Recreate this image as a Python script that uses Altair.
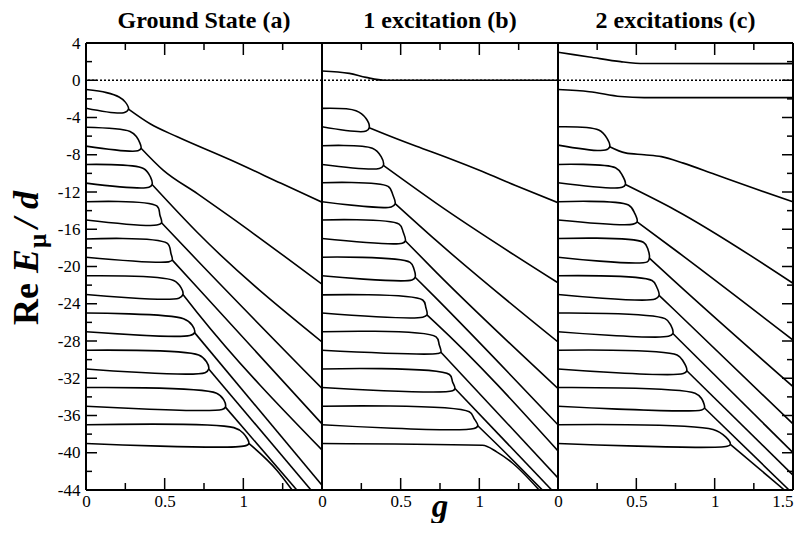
import altair as alt
import pandas as pd

FONT = "Liberation Serif"
X_DOMAIN = [0, 1.5]
Y_DOMAIN = [-44, 4]
PANEL_W = [236, 236, 235]
PANEL_H = 447

TITLES = ["Ground State (a)", "1 excitation (b)", "2 excitations (c)"]
X_TITLE = "g"
Y_LABELS = [4, 0, -4, -8, -12, -16, -20, -24, -28, -32, -36, -40, -44]
Y_MAJOR = [0, -4, -8, -12, -16, -20, -24, -28, -32, -36, -40]
Y_MINOR = [2, -2, -6, -10, -14, -18, -22, -26, -30, -34, -38, -42]
X_MAJOR = [0.5, 1.0]
X_MINOR = [0.25, 0.75, 1.25]
X_LABELS_AB = [0, 0.5, 1]
X_LABELS_C = [0, 0.5, 1, 1.5]
ZERO = [0]

# ---- Panel (a): ground state ----
A_BULLETS = [
    [(0, -1.0), (0.13, -1.33), (0.21, -1.8), (0.25, -2.35), (0.27, -3.1), (0.24, -3.48), (0, -3.0)],
    [(0, -5.05), (0.28, -5.5), (0.32, -6.05), (0.35, -7.3), (0.33, -7.57), (0, -7.07)],
    [(0, -9.05), (0.365, -9.47), (0.41, -10.4), (0.42, -11.2), (0.40, -11.5), (0, -11.05)],
    [(0, -13.05), (0.45, -13.5), (0.47, -14.5), (0.48, -15.3), (0.45, -15.55), (0, -15.0)],
    [(0, -17.05), (0.515, -17.5), (0.54, -18.6), (0.548, -19.3), (0.525, -19.5), (0, -19.0)],
    [(0, -21.0), (0.557, -21.5), (0.605, -22.3), (0.616, -23.0), (0.59, -23.4), (0, -23.0)],
    [(0, -25.0), (0.62, -25.6), (0.675, -26.3), (0.69, -27.1), (0.66, -27.4), (0, -27.0)],
    [(0, -29.0), (0.716, -29.5), (0.765, -30.2), (0.78, -31.0), (0.757, -31.4), (0, -31.0)],
    [(0, -33.0), (0.83, -33.6), (0.875, -34.3), (0.886, -35.1), (0.865, -35.35), (0, -35.0)],
    [(0, -37.0), (0.94, -37.3), (1.0, -37.9), (1.035, -39.0), (1.01, -39.26), (0, -39.0)],
]
A_LINES = [
    [(0.27, -3.1), (0.41, -4.7), (0.58, -6.07), (0.92, -8.57), (1.24, -11.07), (1.5, -13.1)],
    [(0.35, -7.3), (0.49, -9.65), (0.71, -12.2), (0.92, -14.7), (1.5, -21.9)],
    [(0.42, -11.2), (0.705, -16.3), (1.5, -28.1)],
    [(0.48, -15.3), (0.705, -19.3), (1.5, -33.1)],
    [(0.548, -19.3), (0.705, -22.2), (1.5, -36.9)],
    [(0.616, -23.0), (0.705, -24.9), (1.5, -39.7)],
    [(0.69, -27.1), (1.5, -43.5)],
    [(0.78, -31.0), (1.43, -44.0)],
    [(0.886, -35.1), (1.34, -44.0)],
    [(1.035, -39.0), (1.214, -41.9), (1.31, -44.0)],
]

# ---- Panel (b): 1 excitation ----
B_SINGLES = [
    [(0, 1.0), (0.174, 0.74), (0.28, 0.31), (0.4, 0.0), (1.5, 0.0)],
    [(0, -39.0), (1.02, -39.2), (1.11, -39.9), (1.21, -41.1), (1.38, -44.0)],
]
B_BULLETS = [
    [(0, -3.02), (0.216, -3.27), (0.28, -4.1), (0.30, -5.1), (0.28, -5.46), (0, -5.0)],
    [(0, -7.03), (0.32, -7.3), (0.376, -8.2), (0.39, -9.15), (0.364, -9.47), (0, -9.04)],
    [(0, -11.0), (0.42, -11.4), (0.45, -12.3), (0.465, -13.25), (0.44, -13.6), (0, -13.05)],
    [(0, -15.0), (0.49, -15.45), (0.516, -16.3), (0.53, -17.25), (0.51, -17.5), (0, -17.0)],
    [(0, -19.0), (0.56, -19.55), (0.585, -20.3), (0.592, -21.15), (0.572, -21.45), (0, -21.0)],
    [(0, -23.05), (0.64, -23.6), (0.66, -24.4), (0.667, -25.2), (0.64, -25.45), (0, -25.0)],
    [(0, -27.0), (0.725, -27.55), (0.745, -28.4), (0.756, -29.2), (0.735, -29.35), (0, -29.0)],
    [(0, -31.0), (0.81, -31.6), (0.83, -32.4), (0.845, -33.1), (0.83, -33.35), (0, -33.0)],
    [(0, -35.0), (0.936, -35.6), (0.966, -36.3), (0.99, -37.1), (0.966, -37.4), (0, -37.0)],
]
B_LINES = [
    [(0.30, -5.1), (0.386, -5.7), (0.6, -7.1), (0.81, -8.4), (1.02, -9.8), (1.23, -11.3), (1.5, -13.15)],
    [(0.39, -9.15), (0.725, -13.2), (1.5, -21.75)],
    [(0.465, -13.25), (0.725, -17.2), (1.5, -28.1)],
    [(0.53, -17.25), (0.725, -20.6), (1.5, -33.1)],
    [(0.592, -21.15), (0.725, -23.4), (1.5, -37.0)],
    [(0.667, -25.2), (0.725, -26.1), (1.5, -39.8)],
    [(0.756, -29.2), (1.5, -42.7)],
    [(0.845, -33.1), (1.46, -44.0)],
    [(0.99, -37.1), (1.1, -38.9), (1.40, -44.0)],
]

# ---- Panel (c): 2 excitations ----
C_SINGLES = [
    [(0, 3.0), (0.2, 2.5), (0.4, 2.0), (0.55, 1.8), (1.5, 1.78)],
    [(0, -1.0), (0.2, -1.23), (0.4, -1.75), (0.55, -1.87), (1.5, -1.87)],
]
C_BULLETS = [
    [(0, -5.0), (0.26, -5.35), (0.313, -6.24), (0.33, -7.14), (0.303, -7.5), (0, -6.96)],
    [(0, -9.04), (0.367, -9.4), (0.41, -10.2), (0.43, -11.2), (0.41, -11.5), (0, -11.0)],
    [(0, -13.05), (0.45, -13.4), (0.49, -14.3), (0.505, -15.2), (0.48, -15.45), (0, -15.0)],
    [(0, -17.0), (0.545, -17.4), (0.575, -18.2), (0.583, -19.1), (0.57, -19.5), (0, -19.0)],
    [(0, -21.0), (0.6, -21.5), (0.63, -22.2), (0.645, -23.1), (0.62, -23.5), (0, -23.0)],
    [(0, -25.0), (0.683, -25.6), (0.72, -26.3), (0.733, -27.2), (0.705, -27.5), (0, -27.0)],
    [(0, -29.0), (0.76, -29.5), (0.8, -30.2), (0.822, -31.2), (0.8, -31.5), (0, -31.0)],
    [(0, -33.0), (0.875, -33.6), (0.917, -34.2), (0.935, -35.2), (0.917, -35.4), (0, -35.0)],
    [(0, -37.0), (0.99, -37.5), (1.07, -38.3), (1.1, -39.1), (1.08, -39.3), (0, -39.0)],
]
C_LINES = [
    [(0.33, -7.14), (0.43, -7.8), (0.55, -8.0), (0.66, -8.2), (0.8, -8.9), (1.0, -10.1), (1.25, -11.6), (1.5, -13.05)],
    [(0.43, -11.2), (0.745, -13.9), (1.5, -21.8)],
    [(0.505, -15.2), (0.745, -18.2), (1.5, -27.9)],
    [(0.583, -19.1), (0.745, -21.6), (1.5, -32.9)],
    [(0.645, -23.1), (0.745, -24.7), (1.5, -36.9)],
    [(0.733, -27.2), (1.5, -40.0)],
    [(0.822, -31.2), (1.5, -42.4)],
    [(0.935, -35.2), (1.475, -44.0)],
    [(1.1, -39.1), (1.445, -44.0)],
]

# y-axis title pieces: (text, centre y in plot px, baseline x in plot px, style, size)
YTITLE = [
    ("Re", 261, -48, "normal", 36),
    ("E", 218, -48, "italic", 36),
    ("\u03bc", 198, -40, "normal", 25),
    ("/", 180, -48, "italic", 36),
    ("d", 157, -48, "italic", 36),
]


def curves_df(curves):
    rows = []
    for ci, pts in enumerate(curves):
        for oi, (g, v) in enumerate(pts):
            rows.append({"curve": ci, "ord": oi, "g": g, "v": v})
    return pd.DataFrame(rows)


def make_panel(i, closed, open_, x_labels, left=False, right=False, xtitle=False):
    W = PANEL_W[i]
    H = PANEL_H
    one = pd.DataFrame({"k": [0]})
    xscale = alt.Scale(domain=X_DOMAIN, nice=False, zero=False)
    yscale = alt.Scale(domain=Y_DOMAIN, nice=False, zero=False)
    xaxis = alt.Axis(values=x_labels, format="~g", labelFlush=False, labelOverlap=False,
                     labelAlign={"condition": {"test": "datum.value == 1.5", "value": "right"},
                                 "value": "center"},
                     ticks=False, domain=False, grid=False, labelPadding=3,
                     labelFont=FONT, labelFontSize=17, labelColor="black", title=None)
    if left:
        yaxis = alt.Axis(values=Y_LABELS, labelExpr="'' + datum.value", ticks=False, domain=False,
                         grid=False, labelPadding=6, labelFont=FONT, labelFontSize=17,
                         labelColor="black", title=None)
    else:
        yaxis = None
    X = alt.X("g:Q", scale=xscale, axis=xaxis)
    Y = alt.Y("v:Q", scale=yscale, axis=yaxis)
    Yt = alt.Y("t:Q", scale=yscale, axis=yaxis)
    Xt = alt.X("t:Q", scale=xscale, axis=xaxis)

    zero = alt.Chart(pd.DataFrame({"v": ZERO})).mark_rule(
        color="black", strokeWidth=1.3, strokeDash=[2, 2]).encode(y=Y)
    loops = alt.Chart(curves_df(closed)).mark_line(
        color="black", strokeWidth=1.6, interpolate="catmull-rom", clip=True).encode(
        x=X, y=Y, detail="curve:N", order="ord:Q")
    runs = alt.Chart(curves_df(open_)).mark_line(
        color="black", strokeWidth=1.6, interpolate="monotone", clip=True).encode(
        x=X, y=Y, detail="curve:N", order="ord:Q")
    layers = [zero, loops, runs]

    # frame
    rule = dict(color="black", strokeWidth=2)
    layers.append(alt.Chart(one).mark_rule(**rule).encode(
        x=alt.value(0), x2=alt.value(W), y=alt.value(0)))
    layers.append(alt.Chart(one).mark_rule(**rule).encode(
        x=alt.value(0), x2=alt.value(W), y=alt.value(H)))
    layers.append(alt.Chart(one).mark_rule(**rule).encode(
        x=alt.value(0), y=alt.value(0), y2=alt.value(H)))
    layers.append(alt.Chart(one).mark_rule(**rule).encode(
        x=alt.value(W), y=alt.value(0), y2=alt.value(H)))

    # ticks (inward)
    xmaj = pd.DataFrame({"t": X_MAJOR})
    xmin = pd.DataFrame({"t": X_MINOR})
    for df, ln in ((xmaj, 12), (xmin, 7)):
        layers.append(alt.Chart(df).mark_rule(color="black", strokeWidth=1.5).encode(
            x=Xt, y=alt.value(0), y2=alt.value(ln)))
        layers.append(alt.Chart(df).mark_rule(color="black", strokeWidth=1.5).encode(
            x=Xt, y=alt.value(H), y2=alt.value(H - ln)))
    ymaj = pd.DataFrame({"t": Y_MAJOR})
    ymin = pd.DataFrame({"t": Y_MINOR})
    for df, ln in ((ymaj, 11), (ymin, 6)):
        if left:
            layers.append(alt.Chart(df).mark_rule(color="black", strokeWidth=1.5).encode(
                y=Yt, x=alt.value(0), x2=alt.value(ln)))
        if right:
            layers.append(alt.Chart(df).mark_rule(color="black", strokeWidth=1.5).encode(
                y=Yt, x=alt.value(W - ln), x2=alt.value(W)))

    # panel title
    layers.append(alt.Chart(one).mark_text(
        text=TITLES[i], align="center", baseline="alphabetic", font=FONT, fontSize=24,
        fontWeight="bold", color="black").encode(x=alt.value(W / 2), y=alt.value(-15)))

    if xtitle:
        layers.append(alt.Chart(one).mark_text(
            text=X_TITLE, align="center", baseline="alphabetic", font=FONT, fontSize=33,
            fontWeight="bold", fontStyle="italic", color="black").encode(
            x=alt.value(W / 2), y=alt.value(H + 27)))

    if left:
        for txt, yc, xb, style, size in YTITLE:
            layers.append(alt.Chart(one).mark_text(
                text=txt, angle=270, align="center", baseline="alphabetic", font=FONT,
                fontSize=size, fontWeight="bold", fontStyle=style, color="black").encode(
                x=alt.value(xb), y=alt.value(yc)))

    return alt.layer(*layers).properties(width=W, height=H)


pa = make_panel(0, A_BULLETS, A_LINES, X_LABELS_AB, left=True)
pb = make_panel(1, B_BULLETS, B_SINGLES + B_LINES, X_LABELS_AB, xtitle=True)
pc = make_panel(2, C_BULLETS, C_SINGLES + C_LINES, X_LABELS_C, right=True)

chart = alt.hconcat(pa, pb, pc, spacing=0, bounds="flush").properties(
    padding={"left": 0, "top": 0, "right": 0, "bottom": -2}
).configure_view(stroke="transparent")

chart.save("out.html", embed_options={"renderer": "svg", "actions": False})
